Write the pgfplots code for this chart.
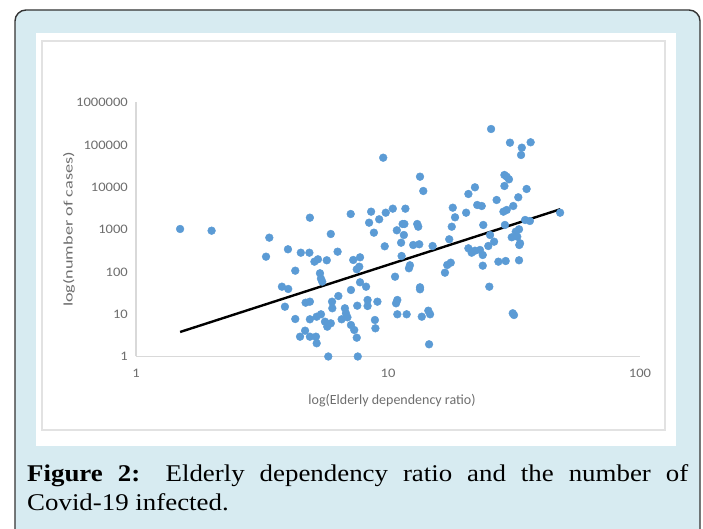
\documentclass[border=0pt]{standalone}
\usepackage{pgfplots}
\pgfplotsset{compat=1.18}
\usepackage{pgfplotstable}
\usepackage{fontspec}
\setmainfont{Liberation Serif}
\newfontfamily\capfont[FakeStretch=1.12]{Liberation Serif}
\newfontfamily\calib{Carlito}
\newfontfamily\tickfont[FakeStretch=1.12]{Carlito}
\newfontfamily\ylabfont[FakeStretch=1.4]{Carlito}
\definecolor{panelblue}{RGB}{215,235,241}
\definecolor{dotblue}{RGB}{91,155,213}
\definecolor{axisgray}{RGB}{217,217,217}
\definecolor{ticktext}{RGB}{110,110,110}
\definecolor{framegray}{RGB}{226,226,226}

% log10(Elderly dependency ratio), log10(number of cases)
\pgfplotstableread{
lx ly
0.175 3.012
0.300 2.972
0.529 2.807
0.516 2.358
0.603 2.533
0.690 3.279
0.654 2.452
0.688 2.452
0.632 2.027
0.708 2.240
0.722 2.296
0.757 2.273
0.773 2.894
0.800 2.476
0.730 1.966
0.734 1.838
0.739 1.767
0.579 1.649
0.604 1.595
0.591 1.176
0.673 1.271
0.690 1.295
0.632 0.886
0.651 0.468
0.671 0.610
0.690 0.468
0.714 0.468
0.717 0.312
0.690 0.879
0.717 0.940
0.734 0.997
0.750 0.822
0.759 0.704
0.773 0.784
0.763 0.000
0.778 1.295
0.779 1.139
0.803 1.429
0.816 0.879
0.829 1.139
0.833 1.021
0.839 0.926
0.853 1.571
0.853 0.744
0.866 0.626
0.876 0.444
0.880 0.000
0.862 2.280
0.889 2.343
0.876 2.060
0.886 2.121
0.889 1.753
0.913 1.649
0.878 1.200
0.919 1.335
0.919 1.193
0.958 1.295
0.948 0.862
0.950 0.666
0.852 3.366
0.933 3.421
0.925 3.161
0.944 2.925
0.965 3.241
0.991 3.397
0.987 2.603
0.981 4.696
1.019 3.492
1.069 3.492
1.035 2.981
1.058 3.130
1.065 3.130
1.063 2.870
1.052 2.688
1.100 2.634
1.124 2.651
1.116 3.130
1.120 3.066
1.127 4.248
1.140 3.910
1.054 2.374
1.087 2.155
1.083 2.084
1.028 1.885
1.127 1.635
1.127 1.588
1.037 1.335
1.032 1.257
1.037 0.997
1.074 0.997
1.134 0.940
1.160 1.082
1.167 0.997
1.163 0.288
1.177 2.610
1.226 1.980
1.235 2.162
1.249 2.216
1.243 2.769
1.253 3.066
1.257 3.515
1.266 3.288
1.310 3.397
1.319 3.839
1.345 3.997
1.354 3.579
1.372 3.555
1.378 3.107
1.319 2.556
1.332 2.452
1.345 2.499
1.365 2.516
1.376 2.398
1.376 2.145
1.398 2.610
1.405 2.870
1.421 2.712
1.431 3.697
1.402 1.649
1.438 2.240
1.467 2.256
1.458 3.421
1.471 3.461
1.464 3.107
1.462 4.288
1.471 4.248
1.480 4.186
1.462 4.028
1.491 2.816
1.497 3.555
1.507 2.948
1.513 2.830
1.520 3.005
1.524 2.674
1.521 2.634
1.520 2.273
1.517 3.761
1.544 3.225
1.563 3.201
1.550 3.957
1.409 5.374
1.484 5.051
1.531 4.933
1.528 4.760
1.566 5.060
1.495 1.021
1.500 0.980
1.683 3.397
}\cases

\begin{document}
\begin{tikzpicture}[x=1pt,y=1pt]
\path[use as bounding box] (0,0) rectangle (703,529);
\draw[rounded corners=11pt, fill=panelblue, draw=black!80, line width=1.4pt] (15,-20) rectangle (700,519);
\fill[white] (36,83) rectangle (676,496);
\draw[framegray, line width=1.5pt] (42,99) rectangle (665,488);
\begin{axis}[
  at={(136pt,172.5pt)}, anchor=south west,
  scale only axis, width=504pt, height=254pt,
  xmin=0, xmax=2, ymin=0, ymax=6,
  axis lines=left,
  axis line style={draw=axisgray, line width=1.3pt, -},
  xtick={0,1,2}, xticklabels={1,10,100},
  ytick={0,1,2,3,4,5,6},
  yticklabels={1,10,100,1000,10000,100000,1000000},
  major tick length=0pt,
  tick label style={font=\tickfont\fontsize{13}{13}\selectfont, text=ticktext, inner sep=0pt},
  xticklabel style={yshift=-12pt},
  yticklabel style={xshift=-8pt},
  clip=false,
]
\addplot[only marks, color=dotblue, mark=*, mark size=3.9pt] table[x=lx, y=ly] {\cases};
\addplot[black, line width=2.4pt] coordinates {(0.175,0.579) (1.683,3.477)};
\node[font=\calib\fontsize{14}{14}\selectfont, text=ticktext, xshift=4pt, yshift=-44.5pt] at (rel axis cs:0.5,0) {log(Elderly dependency ratio)};
\node[font=\ylabfont\fontsize{13}{13}\selectfont, text=ticktext, xshift=-67pt, rotate=90] at (rel axis cs:0,0.5) {log(number of cases)};
\end{axis}
\node[anchor=base west, inner sep=0pt] at (27,47) {\parbox[t]{661pt}{\capfont\fontsize{24}{29}\selectfont\textbf{Figure 2:} Elderly dependency ratio and the number of\linebreak Covid-19 infected.}};
\end{tikzpicture}
\end{document}
